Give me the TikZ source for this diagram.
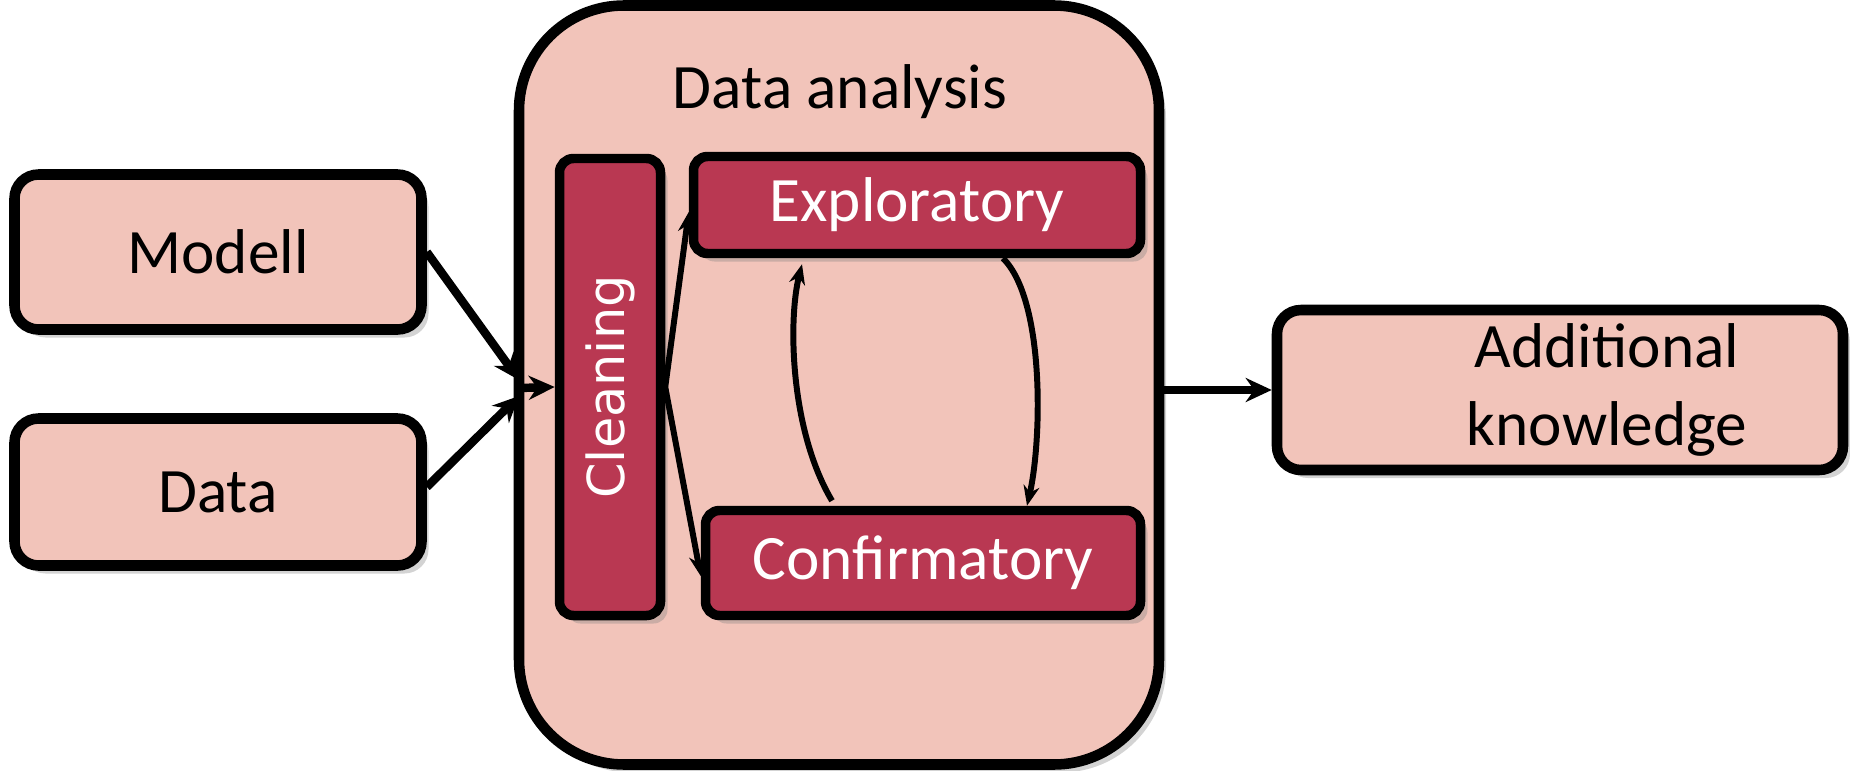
\documentclass[tikz,border=0pt]{standalone}
\usepackage{fontspec}
\setmainfont{Carlito}
\newfontfamily\cleanfont{DejaVu Sans}
\usepackage{tikz}
\usetikzlibrary{positioning,calc,shadows,arrows.meta}
\definecolor{boxpink}{HTML}{F2C4BA}
\definecolor{boxred}{HTML}{B93852}

\begin{document}
\begin{tikzpicture}[
    font=\fontsize{18}{22}\selectfont,
    shade/.style={drop shadow={shadow xshift=0.07cm, shadow yshift=-0.08cm, opacity=0.35}},
    outer/.style={draw, line width=3pt, fill=boxpink, rounded corners=0.24cm, inner sep=0pt, shade},
    inner/.style={draw, line width=2.7pt, fill=boxred, text=white, rounded corners=0.14cm, inner sep=0pt, shade},
    flow/.style={-{Stealth[length=0.26cm, width=0.24cm]}, line width=2.4pt},
    loop/.style={-{Stealth[length=0.2cm, width=0.16cm]}, line width=1.7pt}
]
    \useasboundingbox (0,0) rectangle (18.5,7.7);

    % inputs
    \node[outer, minimum width=4.07cm, minimum height=1.55cm] (modell) at (2.18,5.18) {Modell};
    \node[outer, minimum width=4.07cm, minimum height=1.47cm] (data) at (2.18,2.78) {Data};

    % analysis block
    \node[outer, rounded corners=1.05cm, minimum width=6.4cm, minimum height=7.59cm] (analysis) at (8.39,3.85) {};
    \node (title) at (8.4,6.78) {Data analysis};
    \node[inner, minimum width=1.01cm, minimum height=4.57cm,
        label={[rotate=90, text=white, font=\cleanfont\fontsize{14.5}{17}\selectfont]center:Cleaning}] (clean) at (6.1,3.83) {};
    \node[inner, minimum width=4.47cm, minimum height=0.97cm] (explo) at (9.17,5.65) {Exploratory};
    \node[inner, minimum width=4.35cm, minimum height=1.05cm] (confirm) at (9.23,2.07) {Confirmatory};

    % output
    \node[outer, minimum width=5.66cm, minimum height=1.6cm,
        label={[align=center, xshift=0.47cm]center:Additional\\knowledge}] (result) at (15.6,3.8) {};

    \coordinate (join) at (5.19,3.82);
    \draw[flow] (modell.east) -- ([yshift=0.08cm]join);
    \draw[flow] ([yshift=0.05cm]data.east) -- ([yshift=-0.08cm]join);
    \draw[flow] (join) -- (clean.west);
    \draw[loop] (clean.east) -- ([yshift=-0.07cm]explo.west);
    \draw[loop] (clean.east) -- ([yshift=-0.13cm]confirm.west);
    \draw[loop] ([xshift=0.86cm]explo.south) .. controls (10.45,4.7) and (10.42,3.3) .. ([xshift=1.04cm]confirm.north);
    \draw[loop] ([xshift=-0.91cm,yshift=0.05cm]confirm.north) .. controls (7.9,3.4) and (7.88,4.5) .. ([xshift=-1.15cm,yshift=-0.06cm]explo.south);
    \draw[flow] (analysis.east |- result.west) -- (result.west);
\end{tikzpicture}
\end{document}
